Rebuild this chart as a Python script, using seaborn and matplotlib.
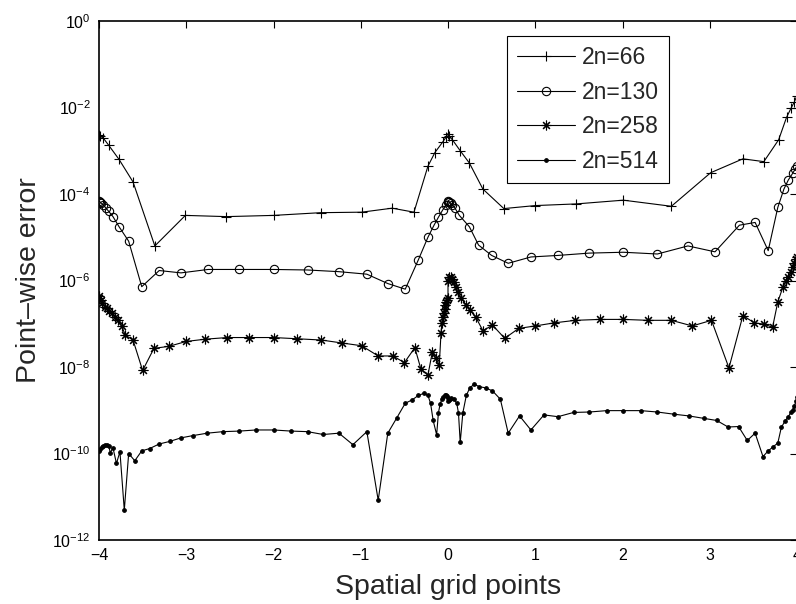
import numpy as np
import pandas as pd
import matplotlib
matplotlib.use("Agg")
import matplotlib.pyplot as plt
from matplotlib.ticker import FixedLocator, NullLocator, FuncFormatter
import seaborn as sns

# ---------------- data ----------------
x_66 = [-4.00, -3.99, -3.95, -3.89, -3.77, -3.61, -3.36, -3.01, -2.54, -2.00,
        -1.46, -0.99, -0.64, -0.39, -0.23, -0.15, -0.06, -0.02, 0.00, 0.01,
        0.05, 0.14, 0.245, 0.40, 0.64, 1.00, 1.47, 2.01, 2.56, 3.01,
        3.38, 3.62, 3.79, 3.88, 3.93, 3.97, 3.995]
err_66 = [2.3e-3, 2.2e-3, 1.95e-3, 1.35e-3, 6.3e-4, 1.9e-4, 6.3e-6, 3.2e-5, 3.0e-5, 3.2e-5,
          3.7e-5, 3.8e-5, 4.7e-5, 3.8e-5, 4.4e-4, 9.1e-4, 1.6e-3, 2.1e-3, 2.5e-3, 2.2e-3,
          1.8e-3, 1.0e-3, 5.2e-4, 1.3e-4, 4.6e-5, 5.4e-5, 5.9e-5, 7.2e-5, 5.2e-5, 3.1e-4,
          6.5e-4, 5.6e-4, 1.8e-3, 5.9e-3, 9.5e-3, 1.35e-2, 1.8e-2]

x_130 = [-4.00, -3.99, -3.98, -3.95, -3.92, -3.89, -3.84, -3.77, -3.66, -3.51,
         -3.31, -3.06, -2.75, -2.39, -2.00, -1.61, -1.25, -0.93, -0.69, -0.49,
         -0.34, -0.23, -0.16, -0.11, -0.06, -0.02, -0.005, 0.00, 0.01, 0.03,
         0.05, 0.08, 0.13, 0.245, 0.35, 0.50, 0.69, 0.95, 1.26, 1.62,
         2.01, 2.40, 2.75, 3.06, 3.34, 3.52, 3.67, 3.78, 3.85, 3.90,
         3.95, 3.98, 4.00]
err_130 = [6.8e-5, 6.6e-5, 6.3e-5, 5.6e-5, 4.7e-5, 4.0e-5, 3.0e-5, 1.75e-5, 8.1e-6, 7.2e-7,
           1.7e-6, 1.5e-6, 1.8e-6, 1.8e-6, 1.8e-6, 1.75e-6, 1.6e-6, 1.4e-6, 8.5e-7, 6.3e-7,
           3.0e-6, 1.0e-5, 1.9e-5, 2.9e-5, 4.3e-5, 5.6e-5, 6.5e-5, 6.9e-5, 6.7e-5, 6.2e-5,
           5.6e-5, 4.7e-5, 3.2e-5, 1.75e-5, 6.6e-6, 3.8e-6, 2.5e-6, 3.5e-6, 3.8e-6, 4.3e-6,
           4.5e-6, 4.1e-6, 6.3e-6, 4.6e-6, 1.9e-5, 2.2e-5, 4.9e-6, 4.9e-5, 1.3e-4, 2.1e-4,
           3.0e-4, 3.8e-4, 4.5e-4]

x_258 = [-4.00, -3.995, -3.98, -3.96, -3.93, -3.91, -3.88, -3.85, -3.82, -3.78,
         -3.74, -3.70, -3.61, -3.50, -3.37, -3.20, -3.00, -2.78, -2.53, -2.28,
         -2.00, -1.73, -1.45, -1.22, -0.99, -0.80, -0.63, -0.50, -0.38, -0.31,
         -0.23, -0.18, -0.14, -0.10, -0.08, -0.07, -0.06, -0.05, -0.04, -0.03,
         -0.02, -0.01, 0.00, 0.00, 0.01, 0.03, 0.05, 0.07, 0.09, 0.11,
         0.15, 0.21, 0.25, 0.32, 0.40, 0.51, 0.65, 0.81, 1.00, 1.22,
         1.46, 1.74, 2.01, 2.29, 2.56, 2.80, 3.02, 3.22, 3.38, 3.51,
         3.62, 3.72, 3.78, 3.84, 3.87, 3.90, 3.93, 3.95, 3.97, 3.99, 4.00]
err_258 = [4.3e-7, 4.0e-7, 3.5e-7, 3.0e-7, 2.5e-7, 2.3e-7, 2.0e-7, 1.75e-7, 1.4e-7, 1.2e-7,
           8.9e-8, 5.5e-8, 4.2e-8, 8.3e-9, 2.7e-8, 3.0e-8, 3.9e-8, 4.4e-8, 4.8e-8, 4.8e-8,
           4.8e-8, 4.5e-8, 4.2e-8, 3.6e-8, 3.1e-8, 1.8e-8, 1.8e-8, 1.26e-8, 2.8e-8, 8.9e-9,
           6.5e-9, 2.2e-8, 1.6e-8, 1.1e-8, 6.2e-8, 1.05e-7, 1.4e-7, 1.8e-7, 2.2e-7, 2.7e-7,
           3.2e-7, 3.5e-7, 3.9e-7, 1.0e-6, 1.2e-6, 1.2e-6, 1.1e-6, 9.3e-7, 7.2e-7, 5.5e-7,
           3.9e-7, 2.7e-7, 2.1e-7, 1.4e-7, 6.9e-8, 9.3e-8, 4.6e-8, 7.8e-8, 8.9e-8, 1.05e-7,
           1.2e-7, 1.26e-7, 1.26e-7, 1.2e-7, 1.2e-7, 8.9e-8, 1.2e-7, 9.5e-9, 1.55e-7, 1.05e-7,
           9.8e-8, 8.3e-8, 3.2e-7, 7.2e-7, 9.5e-7, 1.2e-6, 1.6e-6, 2.1e-6, 2.5e-6, 3.2e-6, 3.5e-6]

x_514 = [-4.00, -3.99, -3.97, -3.95, -3.93, -3.91, -3.89, -3.87, -3.84, -3.80,
         -3.76, -3.71, -3.66, -3.59, -3.51, -3.42, -3.31, -3.19, -3.06, -2.92,
         -2.76, -2.58, -2.39, -2.20, -2.00, -1.80, -1.61, -1.43, -1.25, -1.09,
         -0.93, -0.80, -0.69, -0.59, -0.49, -0.41, -0.34, -0.28, -0.23, -0.20,
         -0.17, -0.13, -0.11, -0.09, -0.07, -0.055, -0.04, -0.02, -0.01, 0.00,
         0.00, 0.01, 0.02, 0.04, 0.07, 0.10, 0.12, 0.14, 0.17, 0.21,
         0.25, 0.30, 0.36, 0.43, 0.51, 0.60, 0.69, 0.82, 0.95, 1.10,
         1.26, 1.44, 1.62, 1.82, 2.01, 2.21, 2.40, 2.59, 2.76, 2.93,
         3.08, 3.21, 3.33, 3.43, 3.52, 3.61, 3.67, 3.73, 3.78, 3.82,
         3.86, 3.90, 3.93, 3.95, 3.97, 3.99, 4.00]
err_514 = [1.15e-10, 1.26e-10, 1.4e-10, 1.5e-10, 1.6e-10, 1.55e-10, 1.5e-10, 1.05e-10, 1.35e-10, 5.9e-11,
           1.1e-10, 4.9e-12, 1.0e-10, 6.8e-11, 1.15e-10, 1.3e-10, 1.66e-10, 1.9e-10, 2.3e-10, 2.6e-10,
           2.95e-10, 3.2e-10, 3.3e-10, 3.5e-10, 3.5e-10, 3.3e-10, 3.2e-10, 2.75e-10, 2.95e-10, 1.6e-10,
           3.2e-10, 8.3e-12, 2.95e-10, 6.5e-10, 1.45e-9, 1.74e-9, 2.2e-9, 2.45e-9, 2.2e-9, 1.45e-9,
           5.8e-10, 2.7e-10, 8.7e-10, 1.4e-9, 1.8e-9, 2.0e-9, 2.2e-9, 2.2e-9, 2.1e-9, 1.9e-9,
           1.6e-9, 1.7e-9, 1.8e-9, 1.9e-9, 1.8e-9, 1.45e-9, 8.7e-10, 1.8e-10, 8.7e-10, 2.2e-9,
           3.3e-9, 4.0e-9, 3.5e-9, 3.3e-9, 2.8e-9, 1.8e-9, 2.95e-10, 7.4e-10, 3.5e-10, 7.8e-10,
           7.1e-10, 8.9e-10, 9.1e-10, 9.8e-10, 9.8e-10, 9.8e-10, 9.1e-10, 8.1e-10, 7.4e-10, 6.5e-10,
           5.8e-10, 4.1e-10, 4.2e-10, 2.0e-10, 2.95e-10, 8.5e-11, 1.15e-10, 1.45e-10, 1.74e-10, 4.0e-10,
           5.5e-10, 7.1e-10, 8.9e-10, 1.0e-9, 1.26e-9, 1.66e-9, 2.0e-9]

labels = ["2n=66", "2n=130", "2n=258", "2n=514"]
x_ticks = [-4, -3, -2, -1, 0, 1, 2, 3, 4]
y_ticks = [1e-12, 1e-10, 1e-8, 1e-6, 1e-4, 1e-2, 1e0]

# ---------------- style ----------------
sns.set_style("white")
plt.rcParams["font.family"] = ["Liberation Sans", "DejaVu Sans"]
plt.rcParams["mathtext.fontset"] = "custom"
plt.rcParams["mathtext.rm"] = "Liberation Sans"
plt.rcParams["mathtext.it"] = "Liberation Sans:italic"
plt.rcParams["mathtext.bf"] = "Liberation Sans:bold"
plt.rcParams["axes.unicode_minus"] = True

fig = plt.figure(figsize=(7.96, 6.04), dpi=100)
ax = fig.add_axes([99 / 796, 64 / 604, 698 / 796, 519 / 604])

series = [
    (x_66, err_66, dict(marker="+", markersize=7.5, markerfacecolor="none")),
    (x_130, err_130, dict(marker="o", markersize=6, markerfacecolor="none")),
    (x_258, err_258, dict(marker=(8, 2, 0), markersize=7, markerfacecolor="none")),
    (x_514, err_514, dict(marker="o", markersize=2.6, markerfacecolor="k")),
]
for (xs, ys, mk), lab in zip(series, labels):
    df = pd.DataFrame({"x": xs, "err": ys})
    sns.lineplot(data=df, x="x", y="err", ax=ax, sort=False, estimator=None,
                 color="k", linewidth=0.8, markeredgecolor="k",
                 markeredgewidth=0.8, label=lab, **mk)

ax.set_yscale("log")
ax.set_xlim(-4, 4)
ax.set_ylim(1e-12, 1e0)
ax.xaxis.set_major_locator(FixedLocator(x_ticks))
ax.yaxis.set_major_locator(FixedLocator(y_ticks))
ax.yaxis.set_minor_locator(NullLocator())
ax.xaxis.set_minor_locator(NullLocator())
ax.yaxis.set_major_formatter(FuncFormatter(
    lambda v, p: r"$10^{%d}$" % int(round(np.log10(v)))))
ax.xaxis.set_major_formatter(FuncFormatter(
    lambda v, p: ("%d" % v).replace("-", "\u2212")))

ax.tick_params(axis="both", which="major", direction="in", length=5, width=0.8,
               top=True, right=True, labelsize=11.5, pad=6, colors="k")
for sp in ax.spines.values():
    sp.set_visible(True)
    sp.set_color("k")
    sp.set_linewidth(1.2)

ax.set_xlabel("Spatial grid points", fontsize=20.5, labelpad=8)
ax.set_ylabel("Point\u2013wise error", fontsize=20.5, labelpad=7)

leg = ax.legend(loc="upper left", bbox_to_anchor=(507 / 796, 1 - 36 / 604),
                bbox_transform=fig.transFigure, borderaxespad=0,
                frameon=True, fancybox=False, framealpha=1, edgecolor="k",
                fontsize=16.5, handlelength=2.5, handletextpad=0.3,
                labelspacing=0.5, borderpad=0.45, numpoints=1)
leg.get_frame().set_linewidth(0.8)

fig.savefig("out.png", dpi=100)
